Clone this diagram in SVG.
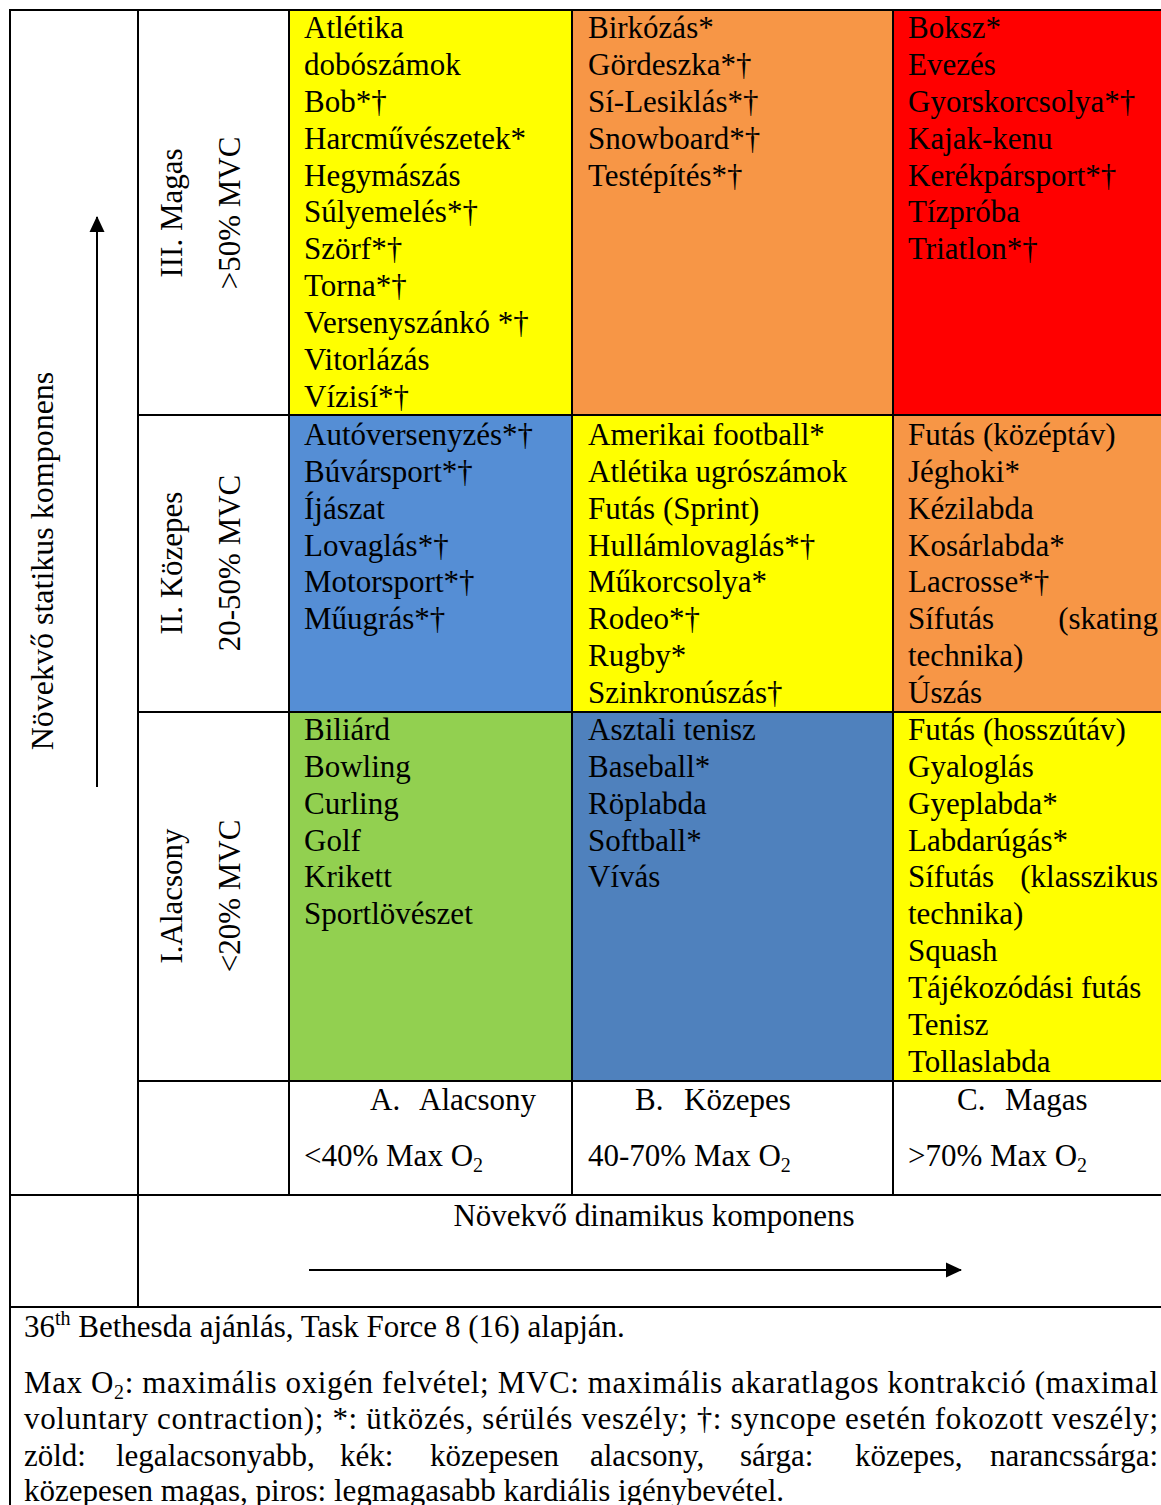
<svg xmlns="http://www.w3.org/2000/svg" width="1161" height="1505" viewBox="0 0 1161 1505">
<style>
.t{font-family:"Liberation Serif","Times New Roman",serif;font-size:31px;fill:#000}
.ln{stroke:#000;stroke-width:2;fill:none}
.sub{font-size:20px}
</style>
<defs>
<marker id="ah2" markerWidth="16" markerHeight="16" refX="15" refY="8" orient="auto" markerUnits="userSpaceOnUse" viewBox="0 0 16 16">
<path d="M0,0.5 L16,8 L0,15.5 Z" fill="#000"/>
</marker>
</defs>
<rect width="1161" height="1505" fill="#fff"/>

<g id="cell-III-A"><rect x="289" y="10" width="283" height="405" fill="#FFFF00"/>
<text class="t"><tspan x="304" y="38">Atlétika</tspan><tspan x="304" y="75">dobószámok</tspan><tspan x="304" y="112">Bob*†</tspan><tspan x="304" y="149">Harcművészetek*</tspan><tspan x="304" y="186">Hegymászás</tspan><tspan x="304" y="222">Súlyemelés*†</tspan><tspan x="304" y="259">Szörf*†</tspan><tspan x="304" y="296">Torna*†</tspan><tspan x="304" y="333">Versenyszánkó *†</tspan><tspan x="304" y="370">Vitorlázás</tspan><tspan x="304" y="407">Vízisí*†</tspan></text></g>
<g id="cell-III-B"><rect x="572" y="10" width="321" height="405" fill="#F79646"/>
<text class="t"><tspan x="588" y="38">Birkózás*</tspan><tspan x="588" y="75">Gördeszka*†</tspan><tspan x="588" y="112">Sí-Lesiklás*†</tspan><tspan x="588" y="149">Snowboard*†</tspan><tspan x="588" y="186">Testépítés*†</tspan></text></g>
<g id="cell-III-C"><rect x="893" y="10" width="268" height="405" fill="#FF0000"/>
<text class="t"><tspan x="908" y="38">Boksz*</tspan><tspan x="908" y="75">Evezés</tspan><tspan x="908" y="112">Gyorskorcsolya*†</tspan><tspan x="908" y="149">Kajak-kenu</tspan><tspan x="908" y="186">Kerékpársport*†</tspan><tspan x="908" y="222">Tízpróba</tspan><tspan x="908" y="259">Triatlon*†</tspan></text></g>

<g id="cell-II-A"><rect x="289" y="415" width="283" height="297" fill="#558ED5"/>
<text class="t"><tspan x="304" y="445">Autóversenyzés*†</tspan><tspan x="304" y="482">Búvársport*†</tspan><tspan x="304" y="519">Íjászat</tspan><tspan x="304" y="556">Lovaglás*†</tspan><tspan x="304" y="592">Motorsport*†</tspan><tspan x="304" y="629">Műugrás*†</tspan></text></g>
<g id="cell-II-B"><rect x="572" y="415" width="321" height="297" fill="#FFFF00"/>
<text class="t"><tspan x="588" y="445">Amerikai football*</tspan><tspan x="588" y="482">Atlétika ugrószámok</tspan><tspan x="588" y="519">Futás (Sprint)</tspan><tspan x="588" y="556">Hullámlovaglás*†</tspan><tspan x="588" y="592">Műkorcsolya*</tspan><tspan x="588" y="629">Rodeo*†</tspan><tspan x="588" y="666">Rugby*</tspan><tspan x="588" y="703">Szinkronúszás†</tspan></text></g>
<g id="cell-II-C"><rect x="893" y="415" width="268" height="297" fill="#F79646"/>
<text class="t"><tspan x="908" y="445">Futás (középtáv)</tspan><tspan x="908" y="482">Jéghoki*</tspan><tspan x="908" y="519">Kézilabda</tspan><tspan x="908" y="556">Kosárlabda*</tspan><tspan x="908" y="592">Lacrosse*†</tspan><tspan x="908" y="629">Sífutás</tspan><tspan x="908" y="666">technika)</tspan><tspan x="908" y="703">Úszás</tspan></text>
<text class="t" x="1158" y="629" text-anchor="end">(skating</text></g>

<g id="cell-I-A"><rect x="289" y="712" width="283" height="369" fill="#92D050"/>
<text class="t"><tspan x="304" y="740">Biliárd</tspan><tspan x="304" y="777">Bowling</tspan><tspan x="304" y="814">Curling</tspan><tspan x="304" y="851">Golf</tspan><tspan x="304" y="887">Krikett</tspan><tspan x="304" y="924">Sportlövészet</tspan></text></g>
<g id="cell-I-B"><rect x="572" y="712" width="321" height="369" fill="#4F81BD"/>
<text class="t"><tspan x="588" y="740">Asztali tenisz</tspan><tspan x="588" y="777">Baseball*</tspan><tspan x="588" y="814">Röplabda</tspan><tspan x="588" y="851">Softball*</tspan><tspan x="588" y="887">Vívás</tspan></text></g>
<g id="cell-I-C"><rect x="893" y="712" width="268" height="369" fill="#FFFF00"/>
<text class="t"><tspan x="908" y="740">Futás (hosszútáv)</tspan><tspan x="908" y="777">Gyaloglás</tspan><tspan x="908" y="814">Gyeplabda*</tspan><tspan x="908" y="851">Labdarúgás*</tspan><tspan x="908" y="887">Sífutás</tspan><tspan x="908" y="924">technika)</tspan><tspan x="908" y="961">Squash</tspan><tspan x="908" y="998">Tájékozódási futás</tspan><tspan x="908" y="1035">Tenisz</tspan><tspan x="908" y="1072">Tollaslabda</tspan></text>
<text class="t" x="1158" y="887" text-anchor="end">(klasszikus</text></g>

<g id="row-III"><text class="t" text-anchor="middle" transform="translate(182,213) rotate(-90)">III. Magas</text>
<text class="t" text-anchor="middle" transform="translate(240,213) rotate(-90)">&gt;50% MVC</text></g>
<g id="row-II"><text class="t" text-anchor="middle" transform="translate(182,563) rotate(-90)">II. Közepes</text>
<text class="t" text-anchor="middle" transform="translate(240,563) rotate(-90)">20-50% MVC</text></g>
<g id="row-I"><text class="t" text-anchor="middle" transform="translate(182,896) rotate(-90)">I.Alacsony</text>
<text class="t" text-anchor="middle" transform="translate(240,896) rotate(-90)">&lt;20% MVC</text></g>
<g id="axis-static"><text class="t" text-anchor="middle" font-size="32" transform="translate(53,561) rotate(-90)" style="font-size:32px">Növekvő statikus komponens</text></g>

<g id="col-A"><text class="t" y="1110"><tspan x="370">A.</tspan><tspan x="419">Alacsony</tspan></text>
<text class="t" x="304" y="1166">&lt;40% Max O<tspan class="sub" dy="6">2</tspan></text></g>
<g id="col-B"><text class="t" y="1110"><tspan x="635">B.</tspan><tspan x="684">Közepes</tspan></text>
<text class="t" x="588" y="1166">40-70% Max O<tspan class="sub" dy="6">2</tspan></text></g>
<g id="col-C"><text class="t" y="1110"><tspan x="957">C.</tspan><tspan x="1005">Magas</tspan></text>
<text class="t" x="908" y="1166">&gt;70% Max O<tspan class="sub" dy="6">2</tspan></text></g>
<g id="axis-dynamic"><text class="t" x="654" y="1226" text-anchor="middle">Növekvő dinamikus komponens</text></g>

<g id="grid" class="ln">
<line x1="9" y1="10" x2="1161" y2="10"/>
<line x1="10" y1="10" x2="10" y2="1505"/>
<line x1="138" y1="10" x2="138" y2="1307"/>
<line x1="289" y1="10" x2="289" y2="1195"/>
<line x1="572" y1="10" x2="572" y2="1195"/>
<line x1="893" y1="10" x2="893" y2="1195"/>
<line x1="138" y1="415" x2="1161" y2="415"/>
<line x1="138" y1="712" x2="1161" y2="712"/>
<line x1="138" y1="1081" x2="1161" y2="1081"/>
<line x1="10" y1="1195" x2="1161" y2="1195"/>
<line x1="10" y1="1307" x2="1161" y2="1307"/>
</g>

<g id="connectors">
<line x1="97" y1="787" x2="97" y2="217" stroke="#000" stroke-width="2" marker-end="url(#ah2)"/>
<line x1="309" y1="1270" x2="961" y2="1270" stroke="#000" stroke-width="2" marker-end="url(#ah2)"/>
</g>

<g id="footnote">
<text class="t" x="24" y="1337">36<tspan font-size="20" dy="-12">th</tspan><tspan dy="12"> Bethesda ajánlás, Task Force 8 (16) alapján.</tspan></text>
<text class="t" x="24" y="1393" textLength="1134" lengthAdjust="spacing">Max O<tspan class="sub" dy="6">2</tspan><tspan dy="-6">: maximális oxigén felvétel; MVC: maximális akaratlagos kontrakció (maximal</tspan></text>
<text class="t" x="24" y="1429" textLength="1134" lengthAdjust="spacing">voluntary contraction); *: ütközés, sérülés veszély; †: syncope esetén fokozott veszély;</text>
<text class="t" y="1466"><tspan x="24">zöld:</tspan><tspan x="116">legalacsonyabb,</tspan><tspan x="340">kék:</tspan><tspan x="430">közepesen</tspan><tspan x="590">alacsony,</tspan><tspan x="740">sárga:</tspan><tspan x="855">közepes,</tspan></text>
<text class="t" x="1158" y="1466" text-anchor="end">narancssárga:</text>
<text class="t" x="24" y="1501">közepesen magas, piros: legmagasabb kardiális igénybevétel.</text>
</g>
</svg>
